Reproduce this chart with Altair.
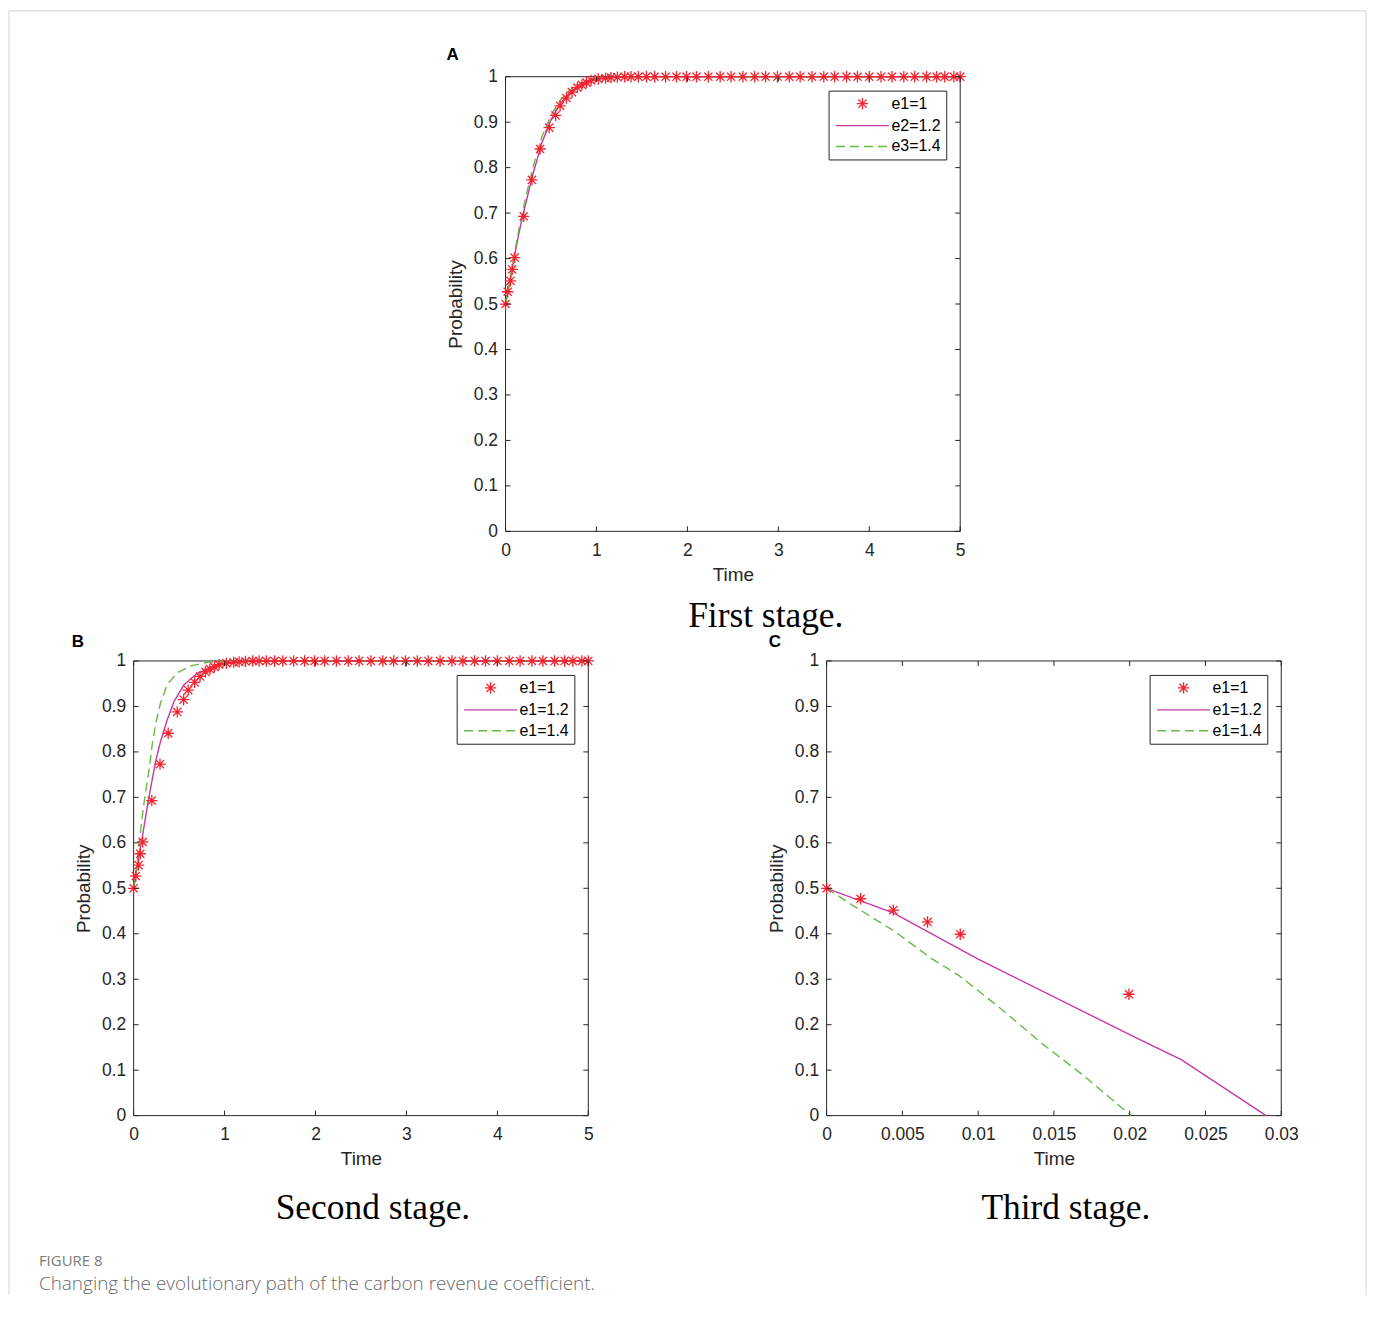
import altair as alt
import pandas as pd

# ---------------- data ----------------
# e1 = 1 (asterisk markers), same path in panels A and B
e1_time = [0, 0.024, 0.054, 0.073, 0.10, 0.20, 0.29, 0.38, 0.48, 0.55, 0.60, 0.67,
           0.73, 0.79, 0.84, 0.89, 0.94, 1.02, 1.10, 1.16, 1.23, 1.31, 1.38, 1.46,
           1.55, 1.64, 1.76, 1.88, 1.99, 2.10, 2.23, 2.36, 2.48, 2.61, 2.74, 2.86,
           2.99, 3.12, 3.24, 3.37, 3.50, 3.62, 3.75, 3.87, 4.00, 4.13, 4.25, 4.38,
           4.50, 4.63, 4.74, 4.83, 4.93, 5.0]
e1_prob = [0.5, 0.527, 0.551, 0.576, 0.602, 0.693, 0.773, 0.841, 0.888, 0.915, 0.936, 0.953,
           0.966, 0.976, 0.982, 0.987, 0.992, 0.995, 0.997, 0.998, 0.999, 1.0, 1.0, 1.0,
           1.0, 1.0, 1.0, 1.0, 1.0, 1.0, 1.0, 1.0, 1.0, 1.0, 1.0, 1.0,
           1.0, 1.0, 1.0, 1.0, 1.0, 1.0, 1.0, 1.0, 1.0, 1.0, 1.0, 1.0,
           1.0, 1.0, 1.0, 1.0, 1.0, 1.0]

# Panel A lines
a_e2_time = [0, 0.05, 0.1, 0.15, 0.2, 0.3, 0.4, 0.5, 0.6, 0.7, 0.8, 0.9, 1.0, 1.2, 1.5, 5]
a_e2_prob = [0.5, 0.552, 0.607, 0.658, 0.703, 0.785, 0.855, 0.905, 0.94, 0.964, 0.979, 0.989, 0.995, 0.999, 1.0, 1.0]
a_e3_time = [0, 0.05, 0.1, 0.15, 0.2, 0.3, 0.4, 0.5, 0.6, 0.7, 0.8, 0.9, 1.0, 1.2, 1.5, 5]
a_e3_prob = [0.5, 0.556, 0.613, 0.668, 0.715, 0.8, 0.868, 0.915, 0.948, 0.969, 0.983, 0.991, 0.996, 0.999, 1.0, 1.0]

# Panel B lines
b_e12_time = [0, 0.05, 0.095, 0.143, 0.186, 0.241, 0.296, 0.369, 0.442, 0.552, 0.698, 0.918, 1.17, 1.5, 5]
b_e12_prob = [0.5, 0.56, 0.612, 0.671, 0.72, 0.778, 0.823, 0.87, 0.91, 0.947, 0.973, 0.991, 0.998, 1.0, 1.0]
b_e14_time = [0, 0.022, 0.06, 0.113, 0.168, 0.205, 0.241, 0.296, 0.369, 0.479, 0.625, 0.808, 1.0, 5]
b_e14_prob = [0.5, 0.525, 0.6, 0.686, 0.759, 0.817, 0.861, 0.908, 0.948, 0.974, 0.989, 0.997, 1.0, 1.0]

# Panel C
c_e1_time = [0, 0.00224, 0.0044, 0.00666, 0.00882, 0.01995]
c_e1_prob = [0.5, 0.477, 0.452, 0.426, 0.399, 0.267]
c_e12_time = [0, 0.0044, 0.01, 0.0205, 0.0234, 0.029]
c_e12_prob = [0.5, 0.446, 0.344, 0.17, 0.123, 0.0]
c_e14_time = [0, 0.0017, 0.0045, 0.0069, 0.0087, 0.0114, 0.0142, 0.017, 0.0201]
c_e14_prob = [0.5, 0.463, 0.405, 0.346, 0.309, 0.238, 0.159, 0.087, 0.0]

names_a = ["e1=1", "e2=1.2", "e3=1.4"]
names_bc = ["e1=1", "e1=1.2", "e1=1.4"]

y_ticks = [0, 0.1, 0.2, 0.3, 0.4, 0.5, 0.6, 0.7, 0.8, 0.9, 1]
x_ticks_ab = [0, 1, 2, 3, 4, 5]
x_ticks_c = [0, 0.005, 0.01, 0.015, 0.02, 0.025, 0.03]

stage_titles = ["First stage.", "Second stage.", "Third stage."]
panel_letters = ["A", "B", "C"]
caption_head = "FIGURE 8"
caption_text = "Changing the evolutionary path of the carbon revenue coefficient."

# ---------------- styling ----------------
W = H = 456
SANS = "Liberation Sans"
SERIF = "Liberation Serif"
AXC = "#262626"
FRAME = "#D4D4D4"
COLORS = ["#F5222D", "#C23BA4", "#67BA43"]
STAR = "M0,-1L0,1M-1,0L1,0M-0.72,-0.72L0.72,0.72M-0.72,0.72L0.72,-0.72"
LINE = "M-4.65,0L4.65,0"
DASH = [9, 5]


def panel(letter, stage, names, star_t, star_p, l1, l2, xdom, xticks, xrange, yoffset,
          letter_x, letter_y, title_dx, title_offset, legend_x):
    def xe(field):
        return alt.X(field, type="quantitative",
                     scale=alt.Scale(domain=xdom, range=xrange, nice=False, zero=False),
                     axis=alt.Axis(values=xticks, format="~g", ticks=False, domain=False, grid=False,
                                   labelFont=SANS, labelFontSize=17.5, labelColor=AXC,
                                   labelPadding=10, labelFlush=False, labelOverlap=False,
                                   title="Time", titleFont=SANS, titleFontSize=19,
                                   titleFontWeight="normal", titleColor=AXC, titlePadding=7))

    def ye(field):
        return alt.Y(field, type="quantitative",
                     scale=alt.Scale(domain=[0, 1], nice=False, zero=False),
                     axis=alt.Axis(values=y_ticks, format="~g", ticks=False, domain=False, grid=False,
                                   offset=yoffset,
                                   labelFont=SANS, labelFontSize=17.5, labelColor=AXC,
                                   labelPadding=8, labelFlush=False, labelOverlap=False,
                                   title="Probability", titleFont=SANS, titleFontSize=19,
                                   titleFontWeight="normal", titleColor=AXC, titlePadding=8))

    pts = pd.DataFrame({"t": star_t, "p": star_p, "s": names[0]})
    d1 = pd.DataFrame({"t": l1[0], "p": l1[1]})
    d2 = pd.DataFrame({"t": l2[0], "p": l2[1]})
    box = pd.DataFrame({"x0": [xdom[0]], "x1": [xdom[1]], "y0": [0], "y1": [1]})
    xt = pd.DataFrame({"v": xticks, "lo": 0, "hi": 1})
    yt = pd.DataFrame({"v": y_ticks, "xlo": xdom[0], "xhi": xdom[1]})

    leg = alt.Legend(title=None, orient="none", legendX=legend_x, legendY=14,
                     strokeColor=AXC, fillColor="white", padding=5, rowPadding=5,
                     labelFont=SANS, labelFontSize=16, labelColor="black",
                     symbolSize=130, symbolOffset=21, labelOffset=21, symbolStrokeWidth=1.3)

    frame_box = alt.Chart(box).mark_rect(fillOpacity=0, stroke=AXC, strokeWidth=1).encode(
        x=xe("x0"), x2=alt.X2("x1"), y=ye("y0"), y2=alt.Y2("y1"))
    line1 = alt.Chart(d1).mark_line(color=COLORS[1], strokeWidth=1.4).encode(x=xe("t"), y=ye("p"))
    line2 = alt.Chart(d2).mark_line(color=COLORS[2], strokeWidth=1.4, strokeDash=DASH).encode(
        x=xe("t"), y=ye("p"))
    stars = alt.Chart(pts).mark_point(filled=False, strokeWidth=1.3, opacity=1, size=130).encode(
        x=xe("t"), y=ye("p"),
        color=alt.Color("s:N", scale=alt.Scale(domain=names, range=COLORS), legend=leg),
        shape=alt.Shape("s:N", scale=alt.Scale(domain=names, range=[STAR, LINE, LINE]), legend=leg),
        strokeDash=alt.StrokeDash("s:N", scale=alt.Scale(domain=names, range=[[1, 0], [1, 0], DASH]), legend=leg),
    )
    tk = dict(color=AXC, strokeWidth=1)
    t_bot = alt.Chart(xt).mark_rule(y2Offset=-5, **tk).encode(x=xe("v"), y=ye("lo"), y2=alt.Y2("lo"))
    t_top = alt.Chart(xt).mark_rule(y2Offset=5, **tk).encode(x=xe("v"), y=ye("hi"), y2=alt.Y2("hi"))
    t_lft = alt.Chart(yt).mark_rule(x2Offset=5, **tk).encode(y=ye("v"), x=xe("xlo"), x2=alt.X2("xlo"))
    t_rgt = alt.Chart(yt).mark_rule(x2Offset=-5, **tk).encode(y=ye("v"), x=xe("xhi"), x2=alt.X2("xhi"))

    lab = alt.Chart(pd.DataFrame({"label": [letter]})).mark_text(
        font=SANS, fontSize=17, fontWeight="bold", color="black", align="center", baseline="middle"
    ).encode(x=alt.value(letter_x), y=alt.value(letter_y), text="label:N")

    return alt.layer(frame_box, line1, line2, stars, t_bot, t_top, t_lft, t_rgt, lab).properties(
        width=W, height=H,
        title=alt.TitleParams(text=stage, orient="bottom", anchor="middle", frame="group",
                              dx=title_dx, offset=title_offset, font=SERIF, fontSize=35.5,
                              fontWeight="normal", color="black"))


# Panel A sits in the right-hand grid column; its x range is shifted left so it is centred
pa = panel(panel_letters[0], stage_titles[0], names_a, e1_time, e1_prob,
           (a_e2_time, a_e2_prob), (a_e3_time, a_e3_prob), [0, 5], x_ticks_ab,
           [-322, 134], 322, -375, -22, -289, 14, 2)
pb = panel(panel_letters[1], stage_titles[1], names_bc, e1_time, e1_prob,
           (b_e12_time, b_e12_prob), (b_e14_time, b_e14_prob), [0, 5], x_ticks_ab,
           [0, W], 0, -56, -19, 12, 22, 324)
pc = panel(panel_letters[2], stage_titles[2], names_bc, c_e1_time, c_e1_prob,
           (c_e12_time, c_e12_prob), (c_e14_time, c_e14_prob), [0, 0.03], x_ticks_c,
           [0, W], 0, -52, -19, 12, 22, 324)

# outer figure frame (light grey), drawn from the empty top-left cell
one = pd.DataFrame({"k": [0]})
fr = dict(color=FRAME, strokeWidth=1)
frame = alt.layer(
    alt.Chart(one).mark_rule(**fr).encode(x=alt.value(-125), y=alt.value(-66), y2=alt.value(1222)),
    alt.Chart(one).mark_rule(**fr).encode(x=alt.value(1236), y=alt.value(-66), y2=alt.value(1222)),
    alt.Chart(one).mark_rule(**fr).encode(x=alt.value(-125), x2=alt.value(1236), y=alt.value(-66)),
).properties(width=W, height=H)

cap_df = pd.DataFrame({"head": [caption_head], "text": [caption_text]})
cap1 = alt.Chart(cap_df).mark_text(font="Open Sans", fontSize=15, color="#7a7a7a",
                                   align="left", baseline="middle").encode(
    x=alt.value(-95), y=alt.value(16), text="head:N")
cap2 = alt.Chart(cap_df).mark_text(font="Open Sans", fontSize=19, fontWeight=300, color="#6a6a6a",
                                   align="left", baseline="middle").encode(
    x=alt.value(-95), y=alt.value(39), text="text:N")
caption = alt.layer(cap1, cap2).properties(width=W, height=50)

chart = alt.concat(
    frame, pa, pb, pc, caption,
    columns=2,
    spacing={"row": 130, "column": 239},
    bounds="flush",
).resolve_scale(
    x="independent", y="independent", color="independent",
    shape="independent", strokeDash="independent",
).resolve_legend(
    color="independent", shape="independent", strokeDash="independent",
).properties(padding=0, background="white").configure_view(strokeOpacity=0)

chart.save("out.html", embed_options={"renderer": "svg", "actions": False})
